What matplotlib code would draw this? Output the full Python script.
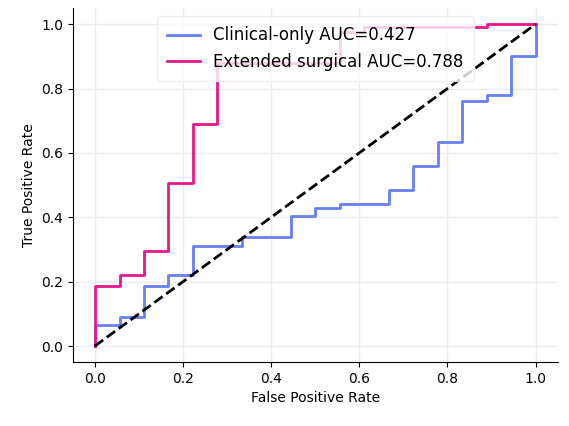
import matplotlib
matplotlib.use("Agg")
import matplotlib.pyplot as plt

# ROC step points
clin_fpr = [0, 0, 0.056, 0.056, 0.111, 0.111, 0.167, 0.167, 0.222, 0.222, 0.333, 0.333,
            0.444, 0.444, 0.5, 0.5, 0.556, 0.556, 0.667, 0.667, 0.722, 0.722, 0.778, 0.778,
            0.833, 0.833, 0.889, 0.889, 0.944, 0.944, 1.0, 1.0]
clin_tpr = [0, 0.065, 0.065, 0.09, 0.09, 0.185, 0.185, 0.22, 0.22, 0.31, 0.31, 0.34,
            0.34, 0.405, 0.405, 0.43, 0.43, 0.44, 0.44, 0.485, 0.485, 0.56, 0.56, 0.635,
            0.635, 0.76, 0.76, 0.78, 0.78, 0.90, 0.90, 1.0]
ext_fpr = [0, 0, 0.056, 0.056, 0.111, 0.111, 0.167, 0.167, 0.222, 0.222, 0.278, 0.278,
           0.556, 0.556, 0.611, 0.611, 0.889, 0.889, 1.0]
ext_tpr = [0, 0.185, 0.185, 0.22, 0.22, 0.295, 0.295, 0.505, 0.505, 0.69, 0.69, 0.88,
           0.88, 0.975, 0.975, 0.99, 0.99, 1.0, 1.0]
labels = ["Clinical-only AUC=0.427", "Extended surgical AUC=0.788"]

fig, ax = plt.subplots(figsize=(5.69, 4.26), dpi=100)
ax.plot(clin_fpr, clin_tpr, color="#6680f2", lw=2, label=labels[0])
ax.plot(ext_fpr, ext_tpr, color="#e8168a", lw=2, label=labels[1])
ax.plot([0, 1], [0, 1], "k--", lw=2)

ax.grid(True, color="#ebebf0", lw=1)
ax.set_axisbelow(True)
for s in ["top", "right"]:
    ax.spines[s].set_visible(False)
ax.set_xlim(-0.05, 1.05)
ax.set_ylim(-0.05, 1.05)
ax.set_xlabel("False Positive Rate")
ax.set_ylabel("True Positive Rate")
ax.legend(loc="upper center", fontsize=12, framealpha=0.8, edgecolor="#eeeeee",
          borderpad=0.6)
fig.subplots_adjust(left=0.128, right=0.98, bottom=0.15, top=0.981)
fig.savefig("out.png")
